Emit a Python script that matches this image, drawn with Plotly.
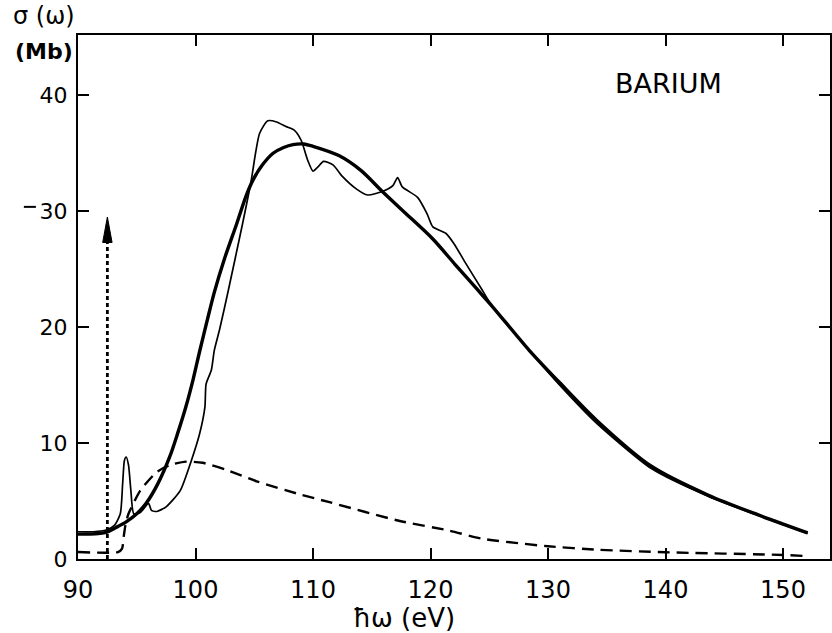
import plotly.graph_objects as go

# ---------------- data ----------------
theory_x = [90.0, 91.0, 92.4, 93.2, 94.1, 95.0, 95.8, 96.8, 97.8, 98.5, 99.2, 99.8, 100.35,
            101.0, 101.6, 102.5, 103.5, 104.3, 104.9, 105.7, 106.6, 107.5, 108.3, 109.2,
            110.0, 112.2, 114.1, 115.9, 117.9, 120.2, 122.1, 123.85, 125.25, 128.4, 131.0,
            134.1, 138.8, 143.65, 147.9, 152.1]
theory_y = [2.15, 2.15, 2.3, 2.7, 3.2, 3.9, 4.8, 6.5, 8.8, 10.9, 13.2, 15.5, 17.9,
            20.6, 23.0, 26.0, 28.9, 31.3, 32.7, 34.0, 35.0, 35.5, 35.75, 35.8,
            35.6, 34.8, 33.5, 31.7, 29.8, 27.6, 25.4, 23.4, 21.8, 18.0, 15.2,
            12.0, 8.0, 5.5, 3.8, 2.25]

exp_x = [90.0, 91.3, 92.4, 93.1, 93.6, 93.8, 93.95, 94.1, 94.3, 94.5, 94.75, 95.3, 96.0,
         96.25, 96.7, 97.5, 98.7, 99.65, 100.35, 100.8, 100.9, 101.35, 101.6, 102.05,
         102.8, 104.0, 104.7, 105.45, 106.15, 106.9, 107.7, 108.4, 109.0, 109.55, 110.0,
         110.4, 110.9, 111.7, 112.5, 113.65, 114.65, 115.9, 116.8, 117.2, 117.6, 118.9,
         119.7, 120.2, 121.3, 122.0, 123.0, 124.4, 125.25, 128.4, 131.0, 134.1, 138.8,
         143.65, 147.9, 152.1]
exp_y = [2.35, 2.35, 2.5, 2.9, 3.9, 6.5, 8.5, 8.8, 8.1, 5.9, 3.9, 4.0, 4.8,
         4.2, 4.1, 4.5, 5.9, 8.5, 10.8, 13.1, 15.1, 16.3, 18.0, 19.8,
         23.2, 28.9, 32.4, 36.7, 37.8, 37.7, 37.3, 37.0, 36.1, 34.4, 33.45,
         33.8, 34.3, 34.0, 33.0, 31.95, 31.4, 31.7, 32.2, 32.9, 32.1, 31.2,
         29.8, 28.65, 28.1, 27.2, 25.5, 23.2, 21.8, 18.0, 15.0, 11.75, 7.8,
         5.4, 3.75, 2.2]

dashed_x = [90.0, 93.4, 93.75, 93.9, 94.05, 94.3, 95.3, 96.7, 97.8, 99.2, 100.6, 102.6,
            105.2, 108.8, 111.4, 117.3, 121.6, 124.4, 130.0, 134.3, 140.0, 150.0, 152.1]
dashed_y = [0.6, 0.6, 0.9, 2.0, 3.0, 3.9, 5.9, 7.5, 8.1, 8.4, 8.3, 7.7,
            6.7, 5.6, 4.9, 3.3, 2.45, 1.75, 1.1, 0.8, 0.58, 0.35, 0.25]

arrow_x = 92.5
arrow_tip = 29.5
arrow_head_len = 2.2
arrow_head_halfwidth = 0.4

x_ticks = [90, 100, 110, 120, 130, 140, 150]
y_ticks = [0, 10, 20, 30, 40]

FONT = "DejaVu Sans"

fig = go.Figure()

fig.add_trace(go.Scatter(x=dashed_x, y=dashed_y, mode="lines",
                         line=dict(color="black", width=2.4, dash="12px,7px",
                                   shape="spline", smoothing=0.6),
                         showlegend=False, hoverinfo="skip"))
fig.add_trace(go.Scatter(x=exp_x, y=exp_y, mode="lines",
                         line=dict(color="black", width=1.7, shape="spline", smoothing=0.6),
                         showlegend=False, hoverinfo="skip"))
fig.add_trace(go.Scatter(x=theory_x, y=theory_y, mode="lines",
                         line=dict(color="black", width=3.4, shape="spline", smoothing=0.8),
                         showlegend=False, hoverinfo="skip"))

# dotted vertical arrow
fig.add_trace(go.Scatter(x=[arrow_x, arrow_x], y=[0, arrow_tip - arrow_head_len + 0.3],
                         mode="lines",
                         line=dict(color="black", width=2.8, dash="4px,3px"),
                         showlegend=False, hoverinfo="skip"))
fig.add_trace(go.Scatter(x=[arrow_x - arrow_head_halfwidth, arrow_x, arrow_x + arrow_head_halfwidth,
                            arrow_x - arrow_head_halfwidth],
                         y=[arrow_tip - arrow_head_len, arrow_tip, arrow_tip - arrow_head_len,
                            arrow_tip - arrow_head_len],
                         mode="lines", fill="toself", fillcolor="black",
                         line=dict(color="black", width=1),
                         showlegend=False, hoverinfo="skip"))

axis_common = dict(showline=True, linecolor="black", linewidth=2, mirror="ticks",
                   ticks="inside", ticklen=11, tickwidth=2, tickcolor="black",
                   showgrid=False, zeroline=False)

fig.update_xaxes(range=[90, 154.0], tickvals=x_ticks,
                 ticktext=[str(v) for v in x_ticks],
                 tickfont=dict(family=FONT, size=24, color="black"),
                 ticklabelstandoff=8, **axis_common)
fig.update_yaxes(range=[0, 45.2], tickvals=y_ticks,
                 ticktext=[str(v) for v in y_ticks],
                 tickfont=dict(family=FONT, size=22, color="black"),
                 ticklabelstandoff=4, **axis_common)

fig.update_layout(
    width=832, height=633,
    margin=dict(l=78, r=0, t=35, b=74),
    plot_bgcolor="white", paper_bgcolor="white",
    annotations=[
        dict(text="σ (ω)", xref="paper", yref="paper", x=-0.045, y=1.036,
             showarrow=False, xanchor="center", yanchor="middle",
             font=dict(family=FONT, size=24, color="black")),
        dict(text="<b>(Mb)</b>", xref="paper", yref="paper", x=-0.045, y=0.968,
             showarrow=False, xanchor="center", yanchor="middle",
             font=dict(family=FONT, size=22, color="black")),
        dict(text="BARIUM", xref="x", yref="y", x=140.25, y=41.0,
             showarrow=False, xanchor="center", yanchor="middle",
             font=dict(family=FONT, size=27, color="black")),
        dict(text="ħω (eV)", xref="paper", yref="paper", x=0.434, y=-0.113,
             showarrow=False, xanchor="center", yanchor="middle",
             font=dict(family=FONT, size=26, color="black")),
    ],
    shapes=[
        dict(type="line", xref="paper", yref="paper", x0=-0.072, x1=-0.056,
             y0=0.672, y1=0.672, line=dict(color="black", width=2)),
    ],
)

fig.write_html("out.html")
